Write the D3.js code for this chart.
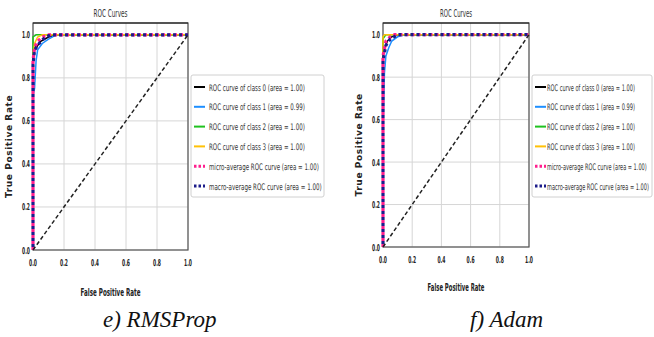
<!DOCTYPE html>
<html>
<head>
<meta charset="utf-8">
<script src="https://cdn.jsdelivr.net/npm/d3@7"></script>
<style>
  body { margin: 0; background: #fff; }
  svg { display: block; }
</style>
</head>
<body>
<div class="my-graph"></div>
<script>
// ROC points [fpr, tpr]
const rmsClass0 = [[0, 0], [0, 0.88], [0.01, 0.93], [0.03, 0.95], [0.05, 0.97], [0.1, 0.99], [0.15, 1], [1, 1]]
const rmsClass1 = [[0, 0], [0, 0.72], [0.01, 0.75], [0.02, 0.88], [0.03, 0.93], [0.06, 0.96], [0.1, 0.98], [0.15, 1], [1, 1]]
const rmsClass2 = [[0, 0], [0, 0.99], [0.02, 1], [1, 1]]
const rmsClass3 = [[0, 0], [0, 0.9], [0.01, 0.96], [0.03, 0.99], [0.06, 1], [1, 1]]
const rmsMicro = [[0, 0], [0, 0.88], [0.01, 0.94], [0.03, 0.97], [0.06, 0.99], [0.1, 1], [1, 1]]
const rmsMacro = [[0, 0], [0, 0.86], [0.01, 0.93], [0.04, 0.96], [0.08, 0.99], [0.12, 1], [1, 1]]

const adamClass0 = [[0, 0], [0, 0.9], [0.01, 0.93], [0.03, 0.97], [0.06, 0.99], [0.1, 1], [1, 1]]
const adamClass1 = [[0, 0], [0, 0.56], [0.01, 0.82], [0.02, 0.9], [0.04, 0.94], [0.06, 0.97], [0.1, 0.99], [0.15, 1], [1, 1]]
const adamClass2 = [[0, 0], [0, 0.98], [0.02, 1], [1, 1]]
const adamClass3 = [[0, 0], [0, 0.99], [0.01, 1], [1, 1]]
const adamMicro = [[0, 0], [0, 0.9], [0.02, 0.97], [0.05, 0.99], [0.08, 1], [1, 1]]
const adamMacro = [[0, 0], [0, 0.88], [0.02, 0.95], [0.05, 0.98], [0.1, 1], [1, 1]]

const diagonal = [[0, 0], [1, 1]]

const rmsLabels = [
  'ROC curve of class 0 (area = 1.00)',
  'ROC curve of class 1 (area = 0.99)',
  'ROC curve of class 2 (area = 1.00)',
  'ROC curve of class 3 (area = 1.00)',
  'micro-average ROC curve (area = 1.00)',
  'macro-average ROC curve (area = 1.00)'
]
const adamLabels = rmsLabels

const ticks = [0, 0.2, 0.4, 0.6, 0.8, 1.0]
const seriesColors = ['#000000', '#1e8fff', '#1fc21f', '#ffc107', '#ff1f8e', '#1c1c8a']

const width = 654
const height = 337

const svg = d3.select('.my-graph')
  .append('svg')
  .attr('width', width)
  .attr('height', height)
  .style('font-family', 'DejaVu Sans')

// squeeze a text horizontally to a given width (the source figure is condensed)
const fitText = (parent, x, y, str, w, anchor, size, weight, fill) => {
  const t = parent.append('text')
    .attr('text-anchor', anchor)
    .attr('font-size', size)
    .attr('font-weight', weight)
    .attr('fill', fill)
    .text(str)
  const len = t.node().getComputedTextLength()
  t.attr('transform', `translate(${x}, ${y}) scale(${w / len}, 1)`)
  return t
}

const drawPanel = (opt) => {
  const x = d3.scaleLinear().domain([0, 1]).range([opt.left, opt.right])
  const y = d3.scaleLinear().domain([0, 1.055]).range([opt.bottom, 23])
  const g = svg.append('g')

  // grid
  g.selectAll('.gx').data(ticks).enter().append('line')
    .attr('x1', d => x(d)).attr('x2', d => x(d))
    .attr('y1', y(0)).attr('y2', y(1.055))
    .attr('stroke', '#d6d6d6').attr('stroke-width', 1)
  g.selectAll('.gy').data(ticks).enter().append('line')
    .attr('x1', x(0)).attr('x2', x(1))
    .attr('y1', d => y(d)).attr('y2', d => y(d))
    .attr('stroke', '#d6d6d6').attr('stroke-width', 1)

  // spines
  g.append('rect')
    .attr('x', x(0)).attr('y', y(1.055))
    .attr('width', x(1) - x(0)).attr('height', y(0) - y(1.055))
    .attr('fill', 'none').attr('stroke', '#555').attr('stroke-width', 1.2)
  g.append('line')
    .attr('x1', x(0)).attr('x2', x(1)).attr('y1', y(1.055)).attr('y2', y(1.055))
    .attr('stroke', '#111').attr('stroke-width', 1.2)

  // tick labels
  ticks.forEach(d => {
    fitText(g, x(d), opt.bottom + 16, d.toFixed(1), 8, 'middle', 9.5, 'bold', '#222')
    fitText(g, x(0) - 3, y(d) + 3.5, d.toFixed(1), 8, 'end', 9.5, 'bold', '#222')
  })

  const line = d3.line().x(d => x(d[0])).y(d => y(d[1]))

  opt.series.forEach((s, i) => {
    const dotted = i >= 4
    g.append('path')
      .datum(s)
      .attr('d', line)
      .attr('fill', 'none')
      .attr('stroke', seriesColors[i])
      .attr('stroke-width', dotted ? 3.2 : 1.5)
      .attr('stroke-dasharray', dotted ? '3,3' : null)
      .attr('stroke-dashoffset', i === 5 ? 3 : 0)
  })

  g.append('path')
    .datum(diagonal)
    .attr('d', line)
    .attr('fill', 'none')
    .attr('stroke', '#222')
    .attr('stroke-width', 1.5)
    .attr('stroke-dasharray', '4,2.5')

  // titles
  fitText(g, (opt.left + opt.right) / 2, 17, 'ROC Curves', opt.titleLen, 'middle', 10, 'normal', '#333')
  fitText(g, (opt.left + opt.right) / 2, opt.xlabelY, 'False Positive Rate', opt.xlabelLen, 'middle', 11, 'bold', '#222')
  g.append('text')
    .attr('transform', `translate(${opt.left - 21}, ${(y(0) + y(1)) / 2 + 4}) rotate(-90)`)
    .attr('text-anchor', 'middle').attr('font-size', 9).attr('font-weight', 'bold').attr('fill', '#222')
    .attr('letter-spacing', 0.6)
    .text('True Positive Rate')

  // legend
  const lg = svg.append('g').attr('transform', `translate(${opt.legendX}, 75)`)
  lg.append('rect')
    .attr('width', opt.legendW).attr('height', 122)
    .attr('rx', 2).attr('fill', '#fff').attr('stroke', '#d0d0d0')
  opt.labels.forEach((lab, i) => {
    const ly = 12 + i * 19.8
    lg.append('line')
      .attr('x1', 3).attr('x2', 14).attr('y1', ly).attr('y2', ly)
      .attr('stroke', seriesColors[i])
      .attr('stroke-width', i >= 4 ? 3 : 2)
      .attr('stroke-dasharray', i >= 4 ? '2.5,2' : null)
    fitText(lg, opt.textX, ly + 3.5, lab, opt.labelLens[i], 'start', 9, 'normal', '#333')
  })

  // caption
  svg.append('text')
    .attr('x', opt.captionX).attr('y', 327)
    .style('font-family', "'Liberation Serif', 'DejaVu Serif', serif")
    .style('font-style', 'italic')
    .attr('font-size', 23).attr('fill', '#111')
    .text(opt.caption)
}

drawPanel({
  left: 33, right: 188, bottom: 250,
  series: [rmsClass0, rmsClass1, rmsClass2, rmsClass3, rmsMicro, rmsMacro],
  labels: rmsLabels,
  titleLen: 34, xlabelLen: 60, xlabelY: 296,
  legendX: 191, legendW: 133, textX: 18,
  labelLens: [96, 96, 96, 96, 110, 113],
  caption: 'e) RMSProp', captionX: 103
})

drawPanel({
  left: 383, right: 529, bottom: 247,
  series: [adamClass0, adamClass1, adamClass2, adamClass3, adamMicro, adamMacro],
  labels: adamLabels,
  titleLen: 32, xlabelLen: 57, xlabelY: 291,
  legendX: 532, legendW: 120, textX: 15,
  labelLens: [88, 88, 88, 88, 100, 102],
  caption: 'f) Adam', captionX: 470
})
</script>
</body>
</html>
